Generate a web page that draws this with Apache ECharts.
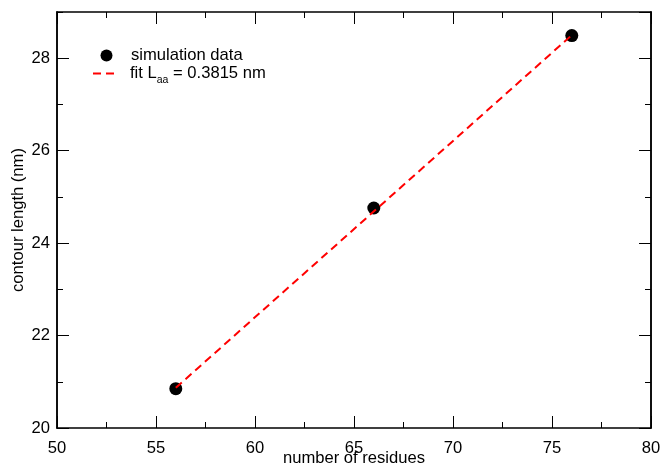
<!DOCTYPE html>
<html>
<head>
<meta charset="utf-8">
<script src="https://cdn.jsdelivr.net/npm/echarts@6/dist/echarts.min.js"></script>
<style>
  html, body { margin: 0; padding: 0; background: #fff; }
  #main { width: 661px; height: 465px; }
</style>
</head>
<body>
<div id="main"></div>
<script>
// simulation points: number of residues vs contour length (nm)
var simX = [56, 66, 76];
var simY = [20.85, 24.76, 28.49];
// linear fit, L_aa = 0.3815 nm per residue
var fitX = [56, 76];
var fitY = [20.87, 28.50];
var xTicks = [50, 55, 60, 65, 70, 75, 80];
var yTicks = [20, 22, 24, 26, 28];

var FONT = 'Liberation Sans';
var FS = 16.6;
var simData = simX.map(function (x, i) { return [x, simY[i]]; });
var fitData = fitX.map(function (x, i) { return [x, fitY[i]]; });

var dom = document.getElementById('main');
var myChart = echarts.init(dom, null, { renderer: 'canvas' });

var lineStyle = { color: '#000', width: 1.5 };

// y axis builder: major axis (labels, long ticks) + minor axis (short ticks every 1)
function yAx(pos, major) {
    return {
        type: 'value',
        position: pos,
        min: yTicks[0],
        max: 29,
        interval: major ? 2 : 1,
        name: (pos === 'left' && major) ? 'contour length (nm)' : '',
        nameLocation: 'middle',
        nameGap: 30,
        nameMoveOverlap: false,
        nameTextStyle: { fontFamily: FONT, fontSize: FS, color: '#000' },
        axisLine: { show: true, onZero: false, lineStyle: lineStyle },
        axisTick: { show: true, inside: true, length: major ? 12 : 6, lineStyle: { color: '#000', width: 1 } },
        axisLabel: {
            show: pos === 'left' && major,
            showMaxLabel: false,
            margin: 7,
            fontFamily: FONT, fontSize: FS, color: '#000'
        },
        splitLine: { show: false }
    };
}

function xAx(pos) {
    return {
        type: 'value',
        position: pos,
        min: xTicks[0],
        max: xTicks[xTicks.length - 1],
        interval: 5,
        name: pos === 'bottom' ? 'number of residues' : '',
        nameLocation: 'middle',
        nameGap: 22,
        nameMoveOverlap: false,
        nameTextStyle: { fontFamily: FONT, fontSize: FS, color: '#000' },
        axisLine: { show: true, onZero: false, lineStyle: lineStyle },
        axisTick: { show: true, inside: true, length: 12, lineStyle: { color: '#000', width: 1 } },
        minorTick: { show: true, splitNumber: 2, length: 6, lineStyle: { color: '#000', width: 1 } },
        axisLabel: {
            show: pos === 'bottom',
            margin: 12,
            fontFamily: FONT, fontSize: FS, color: '#000'
        },
        splitLine: { show: false }
    };
}

var legendBase = {
    padding: 0,
    itemWidth: 25,
    itemHeight: 12,
    textStyle: {
        fontFamily: FONT, fontSize: FS, color: '#000',
        rich: {
            t: { fontFamily: FONT, fontSize: FS, color: '#000', padding: [0, 0, 0, 7] },
            n: { fontFamily: FONT, fontSize: FS, color: '#000' },
            s: { fontFamily: FONT, fontSize: 10.5, color: '#000', padding: [14, 0, 0, 0] }
        }
    },
    formatter: function (name) {
        if (name === 'fit') return '{t|fit L}{s|aa}{n| = 0.3815 nm}';
        return '{t|' + name + '}';
    }
};

var option = {
    animation: false,
    backgroundColor: '#fff',
    grid: { left: 57, right: 10, top: 12, bottom: 37, containLabel: false, outerBoundsMode: 'none' },
    legend: [
        Object.assign({}, legendBase, { left: 100.5, top: 47, data: [{ name: 'simulation data', icon: 'circle' }] }),
        Object.assign({}, legendBase, { left: 92, top: 65, data: [{ name: 'fit', itemStyle: { opacity: 0 } }] })
    ],
    xAxis: [xAx('bottom'), xAx('top')],
    yAxis: [yAx('left', true), yAx('left', false), yAx('right', true), yAx('right', false)],
    series: [
        {
            name: 'simulation data',
            type: 'scatter',
            data: simData,
            symbol: 'circle',
            symbolSize: 13,
            itemStyle: { color: '#000', opacity: 1 },
            z: 2
        },
        {
            name: 'fit',
            type: 'line',
            data: fitData,
            showSymbol: false,
            symbol: 'none',
            lineStyle: { color: '#ff0000', width: 2, type: [8, 5] },
            itemStyle: { color: '#ff0000' },
            z: 3
        }
    ]
};

myChart.setOption(option, true);
</script>
</body>
</html>
